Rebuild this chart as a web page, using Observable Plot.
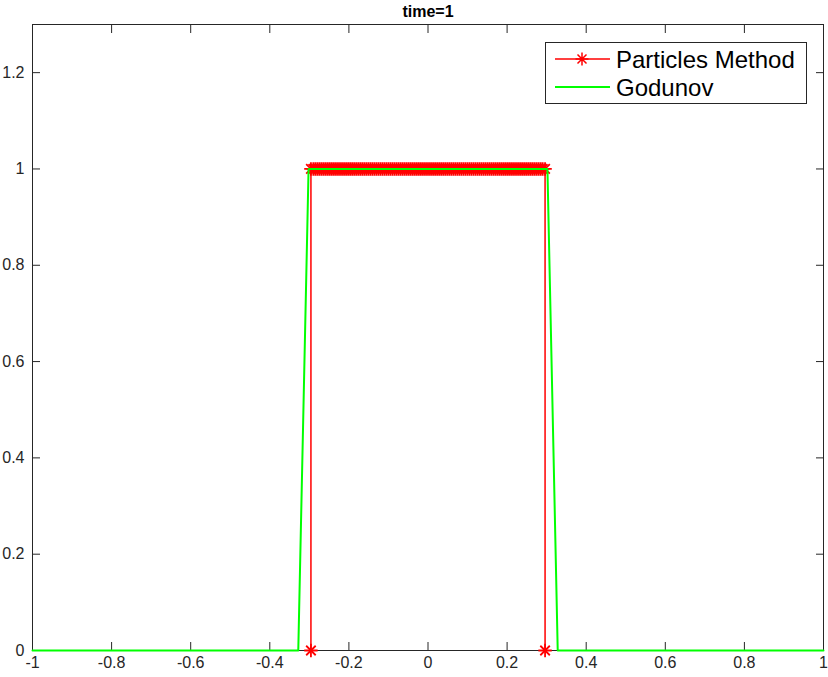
<!DOCTYPE html>
<html><head><meta charset="utf-8">
<script src="https://cdn.jsdelivr.net/npm/d3@7"></script>
<script src="https://cdn.jsdelivr.net/npm/@observablehq/plot@0.6"></script>
<style>
body{margin:0;background:#fff;font-family:"Liberation Sans",Arial,Helvetica,sans-serif;}
#wrap{position:relative;width:828px;height:677px;}
#legend{position:absolute;left:545px;top:42px;width:260px;height:60px;border:1px solid #262626;background:#fff;}
</style></head><body><div id="wrap"></div>
<script>
const title = "time=1";
const seriesNames = ["Particles Method", "Godunov"];
const seriesColors = ["#ff0000", "#00ff00"];
const particleX = [-0.296,-0.296,-0.29,-0.285,-0.28,-0.275,-0.27,-0.265,-0.26,-0.255,-0.25,-0.245,-0.24,-0.235,-0.23,-0.225,-0.22,-0.215,-0.21,-0.205,-0.2,-0.195,-0.19,-0.185,-0.18,-0.175,-0.17,-0.165,-0.16,-0.155,-0.15,-0.145,-0.14,-0.135,-0.13,-0.125,-0.12,-0.115,-0.11,-0.105,-0.1,-0.095,-0.09,-0.085,-0.08,-0.075,-0.07,-0.065,-0.06,-0.055,-0.05,-0.045,-0.04,-0.035,-0.03,-0.025,-0.02,-0.015,-0.01,-0.005,0,0.005,0.01,0.015,0.02,0.025,0.03,0.035,0.04,0.045,0.05,0.055,0.06,0.065,0.07,0.075,0.08,0.085,0.09,0.095,0.1,0.105,0.11,0.115,0.12,0.125,0.13,0.135,0.14,0.145,0.15,0.155,0.16,0.165,0.17,0.175,0.18,0.185,0.19,0.195,0.2,0.205,0.21,0.215,0.22,0.225,0.23,0.235,0.24,0.245,0.25,0.255,0.26,0.265,0.27,0.275,0.28,0.285,0.29,0.296,0.296];
const particleY = [0,1,1,1,1,1,1,1,1,1,1,1,1,1,1,1,1,1,1,1,1,1,1,1,1,1,1,1,1,1,1,1,1,1,1,1,1,1,1,1,1,1,1,1,1,1,1,1,1,1,1,1,1,1,1,1,1,1,1,1,1,1,1,1,1,1,1,1,1,1,1,1,1,1,1,1,1,1,1,1,1,1,1,1,1,1,1,1,1,1,1,1,1,1,1,1,1,1,1,1,1,1,1,1,1,1,1,1,1,1,1,1,1,1,1,1,1,1,1,1,0];
const godunovX = [-1,-0.328,-0.302,0.302,0.328,1];
const godunovY = [0,0,1,1,0,0];
const xTicks = [-1,-0.8,-0.6,-0.4,-0.2,0,0.2,0.4,0.6,0.8,1];
const xTickLabels = ["-1","-0.8","-0.6","-0.4","-0.2","0","0.2","0.4","0.6","0.8","1"];
const yTicks = [0,0.2,0.4,0.6,0.8,1,1.2];
const yTickLabels = ["0","0.2","0.4","0.6","0.8","1","1.2"];

const axisColor = "#262626";
const particles = particleX.map((x, i) => ({x, y: particleY[i]}));
const godunov = godunovX.map((x, i) => ({x, y: godunovY[i]}));

const chart = Plot.plot({
  width: 828, height: 677,
  marginLeft: 32, marginRight: 5, marginTop: 24, marginBottom: 27,
  x: {domain: [-1, 1]},
  y: {domain: [0, 1.3]},
  style: {fontFamily: '"Liberation Sans", Arial, Helvetica, sans-serif', fontSize: "16px", color: axisColor, background: "#fff"},
  marks: [
    Plot.frame({stroke: axisColor}),
    Plot.axisX({anchor: "bottom", ticks: xTicks, tickFormat: d => xTickLabels[xTicks.indexOf(d)], tickSize: -8, tickPadding: 14, fontSize: 16, label: null}),
    Plot.axisX({anchor: "top", ticks: xTicks, tickFormat: () => "", tickSize: -8, label: null}),
    Plot.axisY({anchor: "left", ticks: yTicks, tickFormat: d => yTickLabels[yTicks.indexOf(d)], tickSize: -8, tickPadding: 16, fontSize: 16, label: null}),
    Plot.axisY({anchor: "right", ticks: yTicks, tickFormat: () => "", tickSize: -8, label: null}),
    Plot.line(particles, {x: "x", y: "y", stroke: seriesColors[0], strokeWidth: 1.5}),
    Plot.dot(particles, {x: "x", y: "y", symbol: "plus", r: 4.4, stroke: seriesColors[0], strokeWidth: 1.8}),
    Plot.dot(particles, {x: "x", y: "y", symbol: "times", r: 4.4, stroke: seriesColors[0], strokeWidth: 1.8}),
    Plot.line(godunov, {x: "x", y: "y", stroke: seriesColors[1], strokeWidth: 2}),
    Plot.text([title], {frameAnchor: "top", lineAnchor: "middle", dy: -13, fontWeight: "bold", fontSize: 16, fill: "#000"})
  ]
});
const wrap = document.getElementById("wrap");
wrap.appendChild(chart);

const legend = document.createElement("div");
legend.id = "legend";
const rows = seriesNames.map((name, i) => {
  const cy = 16 + i * 28;
  const marker = i === 0
    ? `<path d="M36,${cy-6.5}V${cy+6.5}M29.5,${cy}H42.5M31.5,${cy-4.5}L40.5,${cy+4.5}M31.5,${cy+4.5}L40.5,${cy-4.5}" stroke="${seriesColors[i]}" stroke-width="1.5" fill="none"/>`
    : "";
  return `<line x1="9" x2="64" y1="${cy}" y2="${cy}" stroke="${seriesColors[i]}" stroke-width="${i === 0 ? 1.5 : 2}"/>${marker}<text x="70" y="${cy}" dy="0.36em" font-size="24" fill="#000">${name}</text>`;
}).join("");
legend.innerHTML = `<svg width="260" height="60" style="display:block;font-family:'Liberation Sans',Arial,sans-serif">${rows}</svg>`;
wrap.appendChild(legend);
</script>
</body></html>
